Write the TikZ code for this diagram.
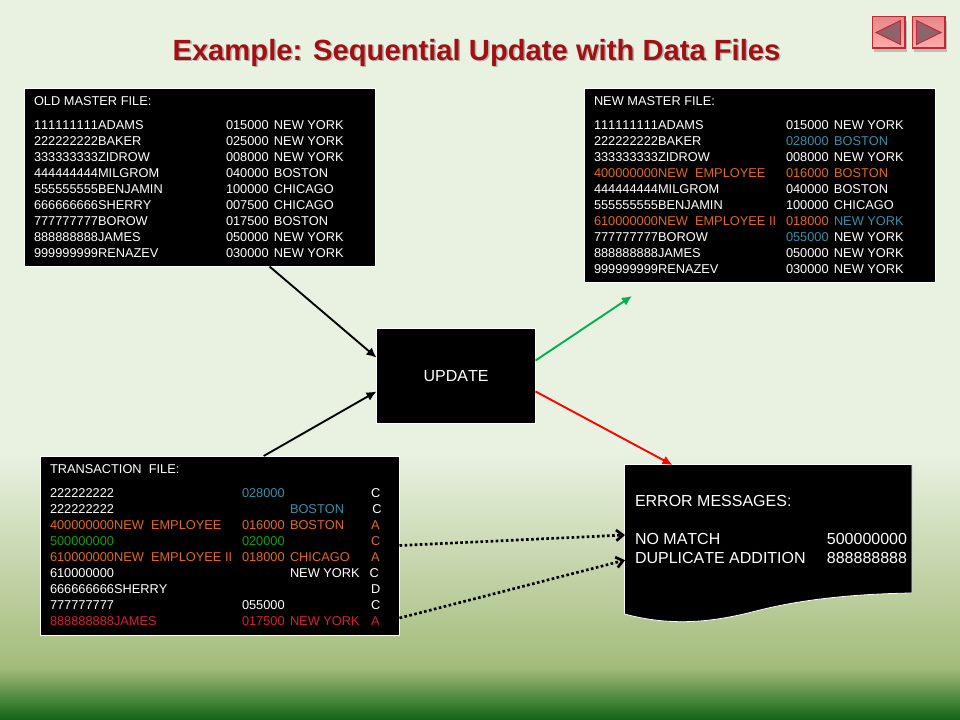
\documentclass[tikz,border=0pt]{standalone}
\usepackage{fontspec}
\setmainfont[Kerning=Off]{Liberation Sans}
\usetikzlibrary{arrows,arrows.meta}
\definecolor{cbg}{RGB}{233,241,224}
\definecolor{cmid}{RGB}{163,187,122}
\definecolor{cdark}{RGB}{15,100,22}
\definecolor{ctitle}{RGB}{160,16,20}
\definecolor{corange}{RGB}{228,104,32}
\definecolor{cblue}{RGB}{52,145,170}
\definecolor{cgreen}{RGB}{16,160,16}
\definecolor{cred}{RGB}{215,32,54}
\definecolor{cpink}{RGB}{255,150,150}
\definecolor{cedge}{RGB}{190,40,55}
\definecolor{ctri}{RGB}{140,100,105}
\definecolor{carrowg}{RGB}{0,176,80}
\tikzset{
  filebox/.style={draw=white,fill=black,line width=0.6pt,inner sep=0pt,outer sep=0pt},
  filetext/.style={anchor=north west,inner sep=0pt,outer sep=0pt,text=white,align=left,
    font=\fontsize{9.6}{12}\selectfont},
  bigtext/.style={anchor=base west,inner sep=0pt,outer sep=0pt,text=white,
    font=\fontsize{12}{14.6}\selectfont},
  flow/.style={-{Latex[length=7.5pt,width=7pt]},line width=1.4pt},
  dotflow/.style={-{Straight Barb[length=5pt,width=8pt,line width=2pt]},line width=2pt,
    dash pattern=on 2pt off 1.8pt,black},
  navbtn/.style={draw=cedge,line width=0.9pt,top color=cpink!90!black,bottom color=cpink!80!white},
  navtri/.style={draw=cedge,line width=0.7pt,fill=ctri},
}
% one row of a master file, three columns
\newcommand{\mrow}[3]{\makebox[144pt][l]{#1}\makebox[36pt][l]{#2}#3}
% one row of the transaction file, four columns
\newcommand{\trow}[4]{\makebox[144pt][l]{#1}\makebox[36pt][l]{#2}\makebox[60.75pt][l]{#3}#4}
\begin{document}
\begin{tikzpicture}[x=0.75pt,y=-0.75pt]
  \useasboundingbox (0,0) rectangle (960,720);
  % background
  \fill[cbg] (0,0) rectangle (960,455);
  \shade[top color=cbg,bottom color=cmid] (0,455) rectangle (960,668);
  \shade[top color=cmid,bottom color=cdark] (0,668) rectangle (960,720);
  % title
  \node[text=black!45,opacity=0.6,inner sep=0pt,font=\fontsize{21.9}{26}\bfseries\selectfont]
    (titleshadow) at (478,54) {Example: Sequential Update with Data Files};
  \node[text=ctitle,inner sep=0pt,font=\fontsize{21.9}{26}\bfseries\selectfont]
    (title) at (476.5,52.5) {Example: Sequential Update with Data Files};
  % buttons
  \fill[black,opacity=0.2] (874,21) rectangle (907,52);
  \fill[black,opacity=0.2] (914,21) rectangle (947,52);
  \path[navbtn] (872.5,16.5) rectangle (905,48);
  \path[navbtn] (912.5,16.5) rectangle (945,48);
  \path[navtri] (876,32.5) -- (900.5,20.5) -- (900.5,44.5) -- cycle;
  \path[navtri] (941,32.5) -- (916.5,20.5) -- (916.5,44.5) -- cycle;
  % boxes
  \node[filebox,minimum width=263.25pt,minimum height=133.5pt] (oldfile) at (200,177.5) {};
  \node[filebox,minimum width=263.25pt,minimum height=145.5pt] (newfile) at (760,185.5) {};
  \node[filebox,minimum width=269.25pt,minimum height=134.25pt] (transfile) at (220,545.5) {};
  \node[filebox,minimum width=119.25pt,minimum height=71.25pt,text=white,
    font=\fontsize{12}{14.6}\selectfont] (update) at (456,376) {UPDATE};
  % printed document, the node only marks its extent
  \path[draw=white,fill=black,line width=0.6pt] (624.5,464.5) -- (912,464.5) -- (912,593)
    .. controls (850,594) and (800,600) .. (760,610)
    .. controls (725,619) and (680,629) .. (624.5,614) -- cycle;
  \node[minimum width=215.25pt,minimum height=112.5pt,inner sep=0pt,outer sep=0pt] (errdoc) at (768.5,540) {};
  % old master
  \node[filetext] (oldhead) at (34,97) {OLD MASTER FILE:};
  \node[filetext] (oldrows) at (34,121) {%
    \mrow{111111111ADAMS}{015000}{NEW YORK}\\
    \mrow{222222222BAKER}{025000}{NEW YORK}\\
    \mrow{333333333ZIDROW}{008000}{NEW YORK}\\
    \mrow{444444444MILGROM}{040000}{BOSTON}\\
    \mrow{555555555BENJAMIN}{100000}{CHICAGO}\\
    \mrow{666666666SHERRY}{007500}{CHICAGO}\\
    \mrow{777777777BOROW}{017500}{BOSTON}\\
    \mrow{888888888JAMES}{050000}{NEW YORK}\\
    \mrow{999999999RENAZEV}{030000}{NEW YORK}};
  % new master
  \node[filetext] (newhead) at (594,97) {NEW MASTER FILE:};
  \node[filetext] (newrows) at (594,121) {%
    \mrow{111111111ADAMS}{015000}{NEW YORK}\\
    \mrow{222222222BAKER}{\color{cblue}028000}{\color{cblue}BOSTON}\\
    \mrow{333333333ZIDROW}{008000}{NEW YORK}\\
    \mrow{\color{corange}400000000NEW\ \ EMPLOYEE}{\color{corange}016000}{\color{corange}BOSTON}\\
    \mrow{444444444MILGROM}{040000}{BOSTON}\\
    \mrow{555555555BENJAMIN}{100000}{CHICAGO}\\
    \mrow{\color{corange}610000000NEW\ \ EMPLOYEE II}{\color{corange}018000}{\color{cblue}NEW YORK}\\
    \mrow{777777777BOROW}{\color{cblue}055000}{NEW YORK}\\
    \mrow{888888888JAMES}{050000}{NEW YORK}\\
    \mrow{999999999RENAZEV}{030000}{NEW YORK}};
  % transactions
  \node[filetext] (transhead) at (50,465) {TRANSACTION\ \ FILE:};
  \node[filetext] (transrows) at (50,489) {%
    \trow{222222222}{\color{cblue}028000}{}{C}\\
    \trow{222222222}{}{\color{cblue}BOSTON}{\kern1pt C}\\
    \trow{\color{corange}400000000NEW\ \ EMPLOYEE}{\color{corange}016000}{\color{corange}BOSTON}{\color{corange}A}\\
    \trow{\color{cgreen}500000000}{\color{cgreen}020000}{}{\color{corange}C}\\
    \trow{\color{corange}610000000NEW\ \ EMPLOYEE II}{\color{corange}018000}{\color{corange}CHICAGO}{\color{corange}A}\\
    \trow{610000000}{}{NEW YORK}{\kern-1pt C}\\
    \trow{666666666SHERRY}{}{}{D}\\
    \trow{777777777}{055000}{}{C}\\
    \trow{\color{cred}888888888JAMES}{\color{cred}017500}{\color{cred}NEW YORK}{\color{cred}A}};
  % error messages
  \node[bigtext] (errhead) at (635,506) {ERROR MESSAGES:};
  \node[bigtext] (errmatch) at (635,544) {NO MATCH};
  \node[bigtext] (errdup) at (635,563.5) {DUPLICATE ADDITION};
  \node[bigtext,anchor=base east] (errmatchno) at (907,544) {500000000};
  \node[bigtext,anchor=base east] (errdupno) at (907,563.5) {888888888};
  % connectors
  \coordinate (newend) at (632,296);
  \draw[flow,black] (oldfile.-52.4) -- (update.167.7);
  \draw[flow,black] (transfile.64.2) -- (update.191);
  \draw[flow,carrowg] (update.11.7) -- (newend);
  \draw[flow,red] (update.-11) -- (errdoc.142.15);
  \draw[dotflow] (transfile.0) -- (errdoc.178.4);
  \draw[dotflow] (transfile.-22.8) -- (errdoc.188.7);
\end{tikzpicture}
\end{document}
